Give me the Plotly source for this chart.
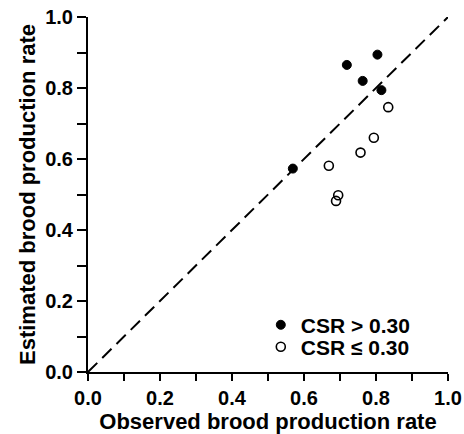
import plotly.graph_objects as go

# Data
high_csr_x = [0.569, 0.719, 0.763, 0.804, 0.815]
high_csr_y = [0.573, 0.865, 0.820, 0.894, 0.794]
low_csr_x = [0.669, 0.689, 0.695, 0.757, 0.794, 0.834]
low_csr_y = [0.581, 0.482, 0.498, 0.618, 0.660, 0.746]
line_x = [0.0, 1.0]
line_y = [0.0, 1.0]
tick_vals = [0.0, 0.2, 0.4, 0.6, 0.8, 1.0]
tick_text = ["0.0", "0.2", "0.4", "0.6", "0.8", "1.0"]

font_family = "Liberation Sans, Arial, sans-serif"
title_font = dict(family=font_family, size=22, color="black", weight="bold")
tick_font = dict(family=font_family, size=20, color="black", weight="bold")

fig = go.Figure()
fig.add_trace(go.Scatter(x=line_x, y=line_y, mode="lines",
                         line=dict(color="black", width=2, dash="13px,7px"),
                         showlegend=False, hoverinfo="skip", cliponaxis=False))
fig.add_trace(go.Scatter(x=high_csr_x, y=high_csr_y, mode="markers", name="CSR > 0.30",
                         legend="legend",
                         marker=dict(symbol="circle", size=9, color="black",
                                     line=dict(color="black", width=1))))
fig.add_trace(go.Scatter(x=low_csr_x, y=low_csr_y, mode="markers", name="CSR \u2264 0.30",
                         legend="legend2",
                         marker=dict(symbol="circle-open", size=9, color="black",
                                     line=dict(color="black", width=1.6))))

def axis(ticklen):
    return dict(
        range=[0, 1], showgrid=False, zeroline=False, automargin=False,
        showline=True, linecolor="black", linewidth=2,
        ticks="outside", ticklen=ticklen, tickwidth=1.5, tickcolor="black",
        tickvals=tick_vals, ticktext=tick_text,
        minor=dict(ticks="outside", ticklen=ticklen, tickwidth=1.5, tickcolor="black",
                   dtick=0.1, tick0=0),
        tickfont=tick_font,
    )

legend_common = dict(xanchor="left", yanchor="middle", bgcolor="rgba(0,0,0,0)",
                     itemwidth=30, font=dict(family=font_family, size=21, color="black", weight="bold"))

fig.update_layout(
    width=464, height=434,
    margin=dict(l=88, r=16, t=17, b=62),
    plot_bgcolor="white", paper_bgcolor="white",
    font=dict(family=font_family, color="black"),
    xaxis=dict(**axis(7), title=dict(text="Observed brood production rate", standoff=1, font=title_font)),
    yaxis=dict(**axis(9), title=dict(text="Estimated brood production rate", standoff=3, font=title_font)),
    legend=dict(x=0.48, y=0.132, **legend_common),
    legend2=dict(x=0.48, y=0.070, **legend_common),
)

fig.write_html("out.html", config={"displayModeBar": False},
               post_script="document.body.style.margin='0';")
